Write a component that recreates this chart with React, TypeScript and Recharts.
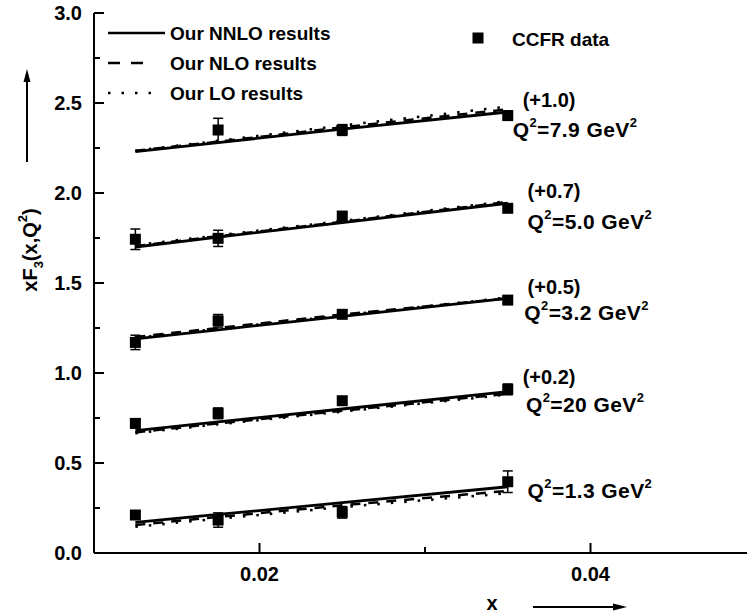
import React from 'react';
import { ComposedChart, Line, Scatter, ErrorBar, XAxis, YAxis, Legend, ReferenceDot, Label } from 'recharts';

const FONT = '"Liberation Sans", Arial, Helvetica, sans-serif';

// x positions of the CCFR bins
const xValues = [0.0125, 0.0175, 0.025, 0.035];

// one row per Q^2 curve, top to bottom
const q2Values = ['7.9', '5.0', '3.2', '20', '1.3'];
const shiftLabels = ['(+1.0)', '(+0.7)', '(+0.5)', '(+0.2)', ''];

const nnloValues = [
  [2.23, 2.28, 2.355, 2.45],
  [1.7, 1.755, 1.835, 1.943],
  [1.19, 1.24, 1.315, 1.415],
  [0.68, 0.728, 0.8, 0.896],
  [0.17, 0.214, 0.28, 0.368],
];
const nloValues = [
  [2.235, 2.285, 2.365, 2.465],
  [1.705, 1.76, 1.84, 1.95],
  [1.2, 1.25, 1.325, 1.415],
  [0.67, 0.72, 0.79, 0.885],
  [0.155, 0.2, 0.265, 0.345],
];
const loValues = [
  [2.235, 2.29, 2.375, 2.48],
  [1.71, 1.765, 1.845, 1.955],
  [1.195, 1.245, 1.32, 1.42],
  [0.665, 0.715, 0.785, 0.88],
  [0.146, 0.19, 0.255, 0.332],
];
const ccfrValues = [
  [null, 2.35, 2.35, 2.43],
  [1.743, 1.748, 1.872, 1.915],
  [1.17, 1.29, 1.326, 1.405],
  [0.72, 0.776, 0.846, 0.909],
  [0.211, 0.183, 0.226, 0.396],
];
const ccfrErrors = [
  [0, 0.065, 0.03, 0.025],
  [0.057, 0.045, 0.02, 0.02],
  [0.04, 0.035, 0.02, 0.02],
  [0.025, 0.03, 0.02, 0.03],
  [0.02, 0.04, 0.032, 0.06],
];

const yTicks = [0, 0.25, 0.5, 0.75, 1, 1.25, 1.5, 1.75, 2, 2.25, 2.5, 2.75, 3];
const xTicks = [0.02, 0.03, 0.04];
const xLabeled = [0.02, 0.04];

// where the curve annotations sit (data coords of text start / baseline)
const shiftLabelPos = [[0.0359, 2.478], [0.0362, 1.972], [0.0362, 1.439], [0.0359, 0.939]];
const q2LabelPos = [[0.0353, 2.311], [0.0362, 1.8], [0.036, 1.294], [0.0361, 0.783], [0.0362, 0.306]];

const toPoints = (vals: number[]) => xValues.map((x, j) => ({ x, y: vals[j] }));
const ccfrPoints = (i: number) =>
  xValues
    .map((x, j) => ({ x, y: ccfrValues[i][j], err: ccfrErrors[i][j] }))
    .filter((p) => p.y !== null);

const isMajorY = (v: number) => Math.abs(v * 2 - Math.round(v * 2)) < 1e-6;

const LeftTick = (props: any) => {
  const { x, y, payload } = props;
  const v = payload.value;
  const major = isMajorY(v);
  return (
    <g>
      <line x1={x} y1={y} x2={x + (major ? 10 : 6)} y2={y} stroke="#000" strokeWidth={2} />
      {major && (
        <text x={x - 12} y={y} dy="0.36em" textAnchor="end" fontFamily={FONT} fontWeight="bold" fontSize={20} fill="#000">
          {v.toFixed(1)}
        </text>
      )}
    </g>
  );
};

const RightTick = (props: any) => {
  const { x, y, payload } = props;
  const major = isMajorY(payload.value);
  return <line x1={x} y1={y} x2={x - (major ? 10 : 6)} y2={y} stroke="#000" strokeWidth={2} />;
};

const BottomTick = (props: any) => {
  const { x, y, payload } = props;
  const v = payload.value;
  const major = xLabeled.some((t) => Math.abs(t - v) < 1e-9);
  return (
    <g>
      <line x1={x} y1={y} x2={x} y2={y - (major ? 10 : 6)} stroke="#000" strokeWidth={2} />
      {major && (
        <text x={x} y={y + 14} dy="0.72em" textAnchor="middle" fontFamily={FONT} fontWeight="bold" fontSize={20} fill="#000">
          {v.toFixed(2)}
        </text>
      )}
    </g>
  );
};

const TopTick = (props: any) => {
  const { x, y, payload } = props;
  const major = xLabeled.some((t) => Math.abs(t - payload.value) < 1e-9);
  return <line x1={x} y1={y} x2={x} y2={y + (major ? 11 : 7)} stroke="#000" strokeWidth={2} />;
};

const YTitle = (props: any) => {
  const vb = props.viewBox || { x: 0, y: 13 };
  const cx = vb.x + 37;
  const cy = vb.y + 237;
  const ax = vb.x + 27;
  return (
    <g>
      <line x1={ax} y1={vb.y + 149} x2={ax} y2={vb.y + 67} stroke="#000" strokeWidth={2} />
      <polygon points={`${ax},${vb.y + 56} ${ax - 3.5},${vb.y + 69} ${ax + 3.5},${vb.y + 69}`} fill="#000" />
      <text x={cx} y={cy} transform={`rotate(-90, ${cx}, ${cy})`} textAnchor="middle" fontFamily={FONT} fontWeight="bold" fontSize={20} fill="#000">
        xF<tspan fontSize={13} dy={6}>3</tspan>
        <tspan dy={-6}>(x,Q</tspan>
        <tspan fontSize={13} dy={-10}>2</tspan>
        <tspan dy={10}>)</tspan>
      </text>
    </g>
  );
};

const XTitle = (props: any) => {
  const vb = props.viewBox || { x: 94, y: 553 };
  const ty = vb.y + 57;
  const ay = vb.y + 54;
  const x0 = vb.x + 439;
  return (
    <g>
      <text x={vb.x + 398} y={ty} textAnchor="middle" fontFamily={FONT} fontWeight="bold" fontSize={20} fill="#000">
        x
      </text>
      <line x1={x0} y1={ay} x2={x0 + 82} y2={ay} stroke="#000" strokeWidth={2} />
      <polygon points={`${x0 + 94},${ay} ${x0 + 80},${ay - 3.5} ${x0 + 80},${ay + 3.5}`} fill="#000" />
    </g>
  );
};

const legendText = { fontFamily: FONT, fontWeight: 'bold' as const, fontSize: 19, fill: '#000' };

const LegendBox = () => (
  <svg width={700} height={110} style={{ display: 'block' }}>
    <line x1={108} y1={33} x2={165} y2={33} stroke="#000" strokeWidth={2.5} />
    <text x={170} y={40} {...legendText}>Our NNLO results</text>
    <line x1={108} y1={63} x2={145} y2={63} stroke="#000" strokeWidth={2.5} strokeDasharray="12 11" />
    <text x={170} y={70} {...legendText}>Our NLO results</text>
    <line x1={108} y1={93} x2={155} y2={93} stroke="#000" strokeWidth={2.5} strokeDasharray="2.5 11" />
    <text x={170} y={100} {...legendText}>Our LO results</text>
    <rect x={472.5} y={32.5} width={11} height={11} fill="#000" />
    <text x={512} y={46} {...legendText}>CCFR data</text>
  </svg>
);

const Square = (props: any) => {
  const { cx, cy } = props;
  return <rect x={cx - 5.5} y={cy - 5.5} width={11} height={11} fill="#000" />;
};

const textStyle = { fontFamily: FONT, fontWeight: 'bold' as const, fontSize: 20, fill: '#000' };
const q2Style = { fontFamily: FONT, fontWeight: 'bold' as const, fontSize: 21, letterSpacing: 0.4, fill: '#000' };

export default function App() {
  const lines: React.ReactNode[] = [];
  q2Values.forEach((q, i) => {
    lines.push(
      <Line key={`lo-${i}`} data={toPoints(loValues[i])} dataKey="y" type="linear" stroke="#000" strokeWidth={2.5}
        strokeDasharray="2.5 11" dot={false} activeDot={false} isAnimationActive={false} />
    );
    lines.push(
      <Line key={`nlo-${i}`} data={toPoints(nloValues[i])} dataKey="y" type="linear" stroke="#000" strokeWidth={2.5}
        strokeDasharray="10 8" dot={false} activeDot={false} isAnimationActive={false} />
    );
    lines.push(
      <Line key={`nnlo-${i}`} data={toPoints(nnloValues[i])} dataKey="y" type="linear" stroke="#000" strokeWidth={2.8}
        dot={false} activeDot={false} isAnimationActive={false} />
    );
  });

  const points = q2Values.map((q, i) => (
    <Scatter key={`ccfr-${i}`} data={ccfrPoints(i)} dataKey="y" shape={Square} isAnimationActive={false}>
      <ErrorBar dataKey="err" direction="y" width={5} stroke="#000" strokeWidth={1.5} />
    </Scatter>
  ));

  const shiftTexts = shiftLabelPos.map((p, i) => (
    <ReferenceDot key={`sh-${i}`} x={p[0]} y={p[1]} r={0}
      shape={(s: any) => <text x={s.cx} y={s.cy} {...textStyle}>{shiftLabels[i]}</text>} />
  ));

  const q2Texts = q2LabelPos.map((p, i) => (
    <ReferenceDot key={`q2-${i}`} x={p[0]} y={p[1]} r={0}
      shape={(s: any) => (
        <text x={s.cx} y={s.cy} {...q2Style}>
          Q<tspan fontSize={13} dy={-10}>2</tspan>
          <tspan dy={10}>={q2Values[i]} GeV</tspan>
          <tspan fontSize={13} dy={-10}>2</tspan>
        </text>
      )} />
  ));

  return (
    <div style={{ position: 'absolute', left: 0, top: 0, width: 747, height: 616, overflow: 'hidden', background: '#fff' }}>
      <ComposedChart width={770} height={616} margin={{ top: 13, right: 14, bottom: 0, left: 0 }}>
        <XAxis dataKey="x" type="number" domain={[0.01, 0.05]} ticks={xTicks} allowDataOverflow
          height={63} tickSize={0} tickMargin={0} tickLine={false} tick={<BottomTick />}
          axisLine={{ stroke: '#000', strokeWidth: 2 }}>
          <Label content={<XTitle />} />
        </XAxis>
        <XAxis xAxisId="top" orientation="top" dataKey="x" type="number" domain={[0.01, 0.05]} ticks={xTicks}
          allowDataOverflow height={0} tickSize={0} tickMargin={0} tickLine={false} tick={<TopTick />}
          axisLine={{ stroke: '#000', strokeWidth: 2 }} />
        <YAxis type="number" domain={[0, 3]} ticks={yTicks} allowDataOverflow width={94} tickSize={0}
          tickMargin={0} tickLine={false} tick={<LeftTick />} axisLine={{ stroke: '#000', strokeWidth: 2 }}>
          <Label content={<YTitle />} />
        </YAxis>
        <YAxis yAxisId="right" orientation="right" type="number" domain={[0, 3]} ticks={yTicks} allowDataOverflow
          width={0} tickSize={0} tickMargin={0} tickLine={false} tick={<RightTick />}
          axisLine={{ stroke: '#000', strokeWidth: 2 }} />
        <Legend layout="vertical" align="center" verticalAlign="middle" content={<LegendBox />}
          wrapperStyle={{ left: 0, top: 0, width: 700, height: 110 }} />
        {lines}
        {points}
        {shiftTexts}
        {q2Texts}
      </ComposedChart>
    </div>
  );
}
